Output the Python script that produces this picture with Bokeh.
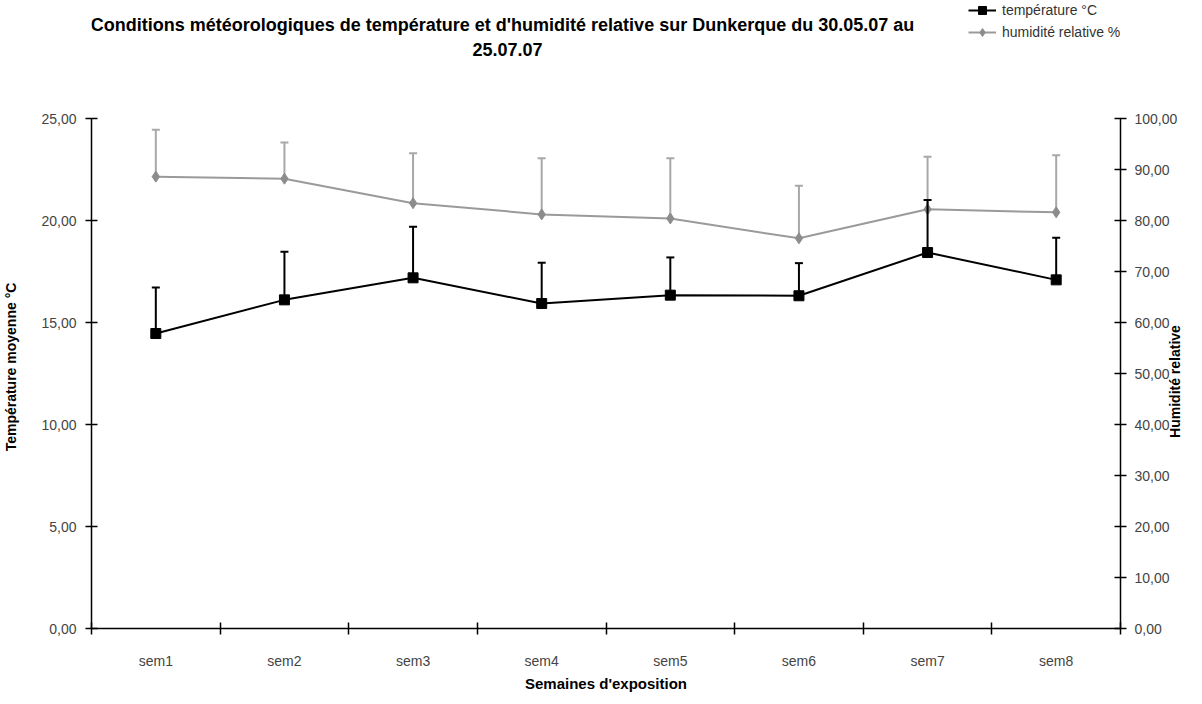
from math import pi
from bokeh.plotting import figure
from bokeh.models import (Range1d, LinearAxis, FixedTicker, Label, Legend,
                          LegendItem, ColumnDataSource)
from bokeh.embed import file_html
from bokeh.resources import INLINE

# ---------------- data ----------------
weeks = ["sem1", "sem2", "sem3", "sem4", "sem5", "sem6", "sem7", "sem8"]
temperature = [14.46, 16.11, 17.19, 15.93, 16.34, 16.31, 18.43, 17.09]
temperature_sd = [2.26, 2.36, 2.50, 2.00, 1.85, 1.60, 2.58, 2.06]
humidity = [88.6, 88.2, 83.4, 81.2, 80.4, 76.5, 82.2, 81.6]
humidity_sd = [9.2, 7.1, 9.8, 11.0, 11.8, 10.3, 10.3, 11.2]
temp_ticks = [0, 5, 10, 15, 20, 25]
hum_ticks = [0, 10, 20, 30, 40, 50, 60, 70, 80, 90, 100]

FONT = "Liberation Sans"
TICK_COL = "#444444"
NBSP = "\u00a0"

# geometry: the frame reaches the top of the canvas so that the title and
# legend (drawn inside it) are visible; the axes are bounded to their data span
FRAME_W, FRAME_H = 1029, 628
AXIS_H = 510                      # pixel height of the 0..25 axis span
T_MAX, H_MAX = 25, 100

xpos = [i + 0.5 for i in range(len(weeks))]
src = ColumnDataSource(dict(
    x=xpos,
    t=temperature,
    t_top=[v + s for v, s in zip(temperature, temperature_sd)],
    h=humidity,
    h_top=[v + s for v, s in zip(humidity, humidity_sd)],
))

p = figure(frame_width=FRAME_W, frame_height=FRAME_H,
           min_border_left=87, min_border_right=70,
           min_border_top=0, min_border_bottom=60,
           x_range=Range1d(0, len(weeks)),
           y_range=Range1d(0, T_MAX * FRAME_H / AXIS_H),
           output_backend="svg", toolbar_location=None,
           x_axis_location=None, y_axis_location=None)
p.extra_y_ranges = {"hum": Range1d(0, H_MAX * FRAME_H / AXIS_H)}
p.outline_line_color = None
p.xgrid.visible = False
p.ygrid.visible = False
p.background_fill_color = "white"
p.border_fill_color = "white"

# ---------------- axes ----------------
xaxis = LinearAxis(
    bounds=(0, len(weeks)),
    ticker=FixedTicker(ticks=xpos, minor_ticks=list(range(len(weeks) + 1))),
    major_label_overrides={x: w for x, w in zip(xpos, weeks)},
    major_tick_in=0, major_tick_out=0,
    minor_tick_in=6, minor_tick_out=6,
    minor_tick_line_color="black", minor_tick_line_width=1.5,
    axis_line_color="black", axis_line_width=1.5,
    major_label_standoff=18,
    major_label_text_font=FONT, major_label_text_font_size="14px",
    major_label_text_color=TICK_COL,
    axis_label="Semaines d'exposition", axis_label_standoff=3,
    axis_label_text_font=FONT, axis_label_text_font_size="15px",
    axis_label_text_font_style="bold", axis_label_text_color="black")
p.add_layout(xaxis, "below")

# left title: trailing no-break spaces shift it down to the middle of the 0..25 span
yaxis = LinearAxis(
    bounds=(0, T_MAX),
    ticker=FixedTicker(ticks=temp_ticks),
    major_label_overrides={t: f"{t:.2f}".replace(".", ",") for t in temp_ticks},
    major_tick_in=6, major_tick_out=6,
    major_tick_line_color="black", major_tick_line_width=1.5,
    minor_tick_line_color=None,
    axis_line_color="black", axis_line_width=1.5,
    major_label_standoff=9,
    major_label_text_font=FONT, major_label_text_font_size="14px",
    major_label_text_color=TICK_COL,
    axis_label="Température moyenne °C" + NBSP * 27, axis_label_standoff=19,
    axis_label_text_font=FONT, axis_label_text_font_size="14px",
    axis_label_text_font_style="bold", axis_label_text_color="black")
p.add_layout(yaxis, "left")

# right title: read bottom-to-top, anchored at the axis start, lifted by leading spaces
yaxis2 = LinearAxis(
    y_range_name="hum",
    bounds=(0, H_MAX),
    ticker=FixedTicker(ticks=hum_ticks),
    major_label_overrides={t: f"{t:.2f}".replace(".", ",") for t in hum_ticks},
    major_tick_in=6, major_tick_out=6,
    major_tick_line_color="black", major_tick_line_width=1.5,
    minor_tick_line_color=None,
    axis_line_color="black", axis_line_width=1.5,
    major_label_standoff=8,
    major_label_text_font=FONT, major_label_text_font_size="14px",
    major_label_text_color=TICK_COL,
    axis_label=NBSP * 49 + "Humidité relative", axis_label_standoff=-5,
    axis_label_text_font=FONT, axis_label_text_font_size="14px",
    axis_label_text_font_style="bold", axis_label_text_color="black")
try:
    yaxis2.axis_label_orientation = pi / 2
    yaxis2.axis_label_align = "start"
except Exception:
    pass
p.add_layout(yaxis2, "right")

# ---------------- humidity series ----------------
HUM_LINE = "#9a9a9a"
HUM_ERR = "#a8a8a8"
p.segment(x0="x", y0="h", x1="x", y1="h_top", source=src, y_range_name="hum",
          line_color=HUM_ERR, line_width=2)
p.scatter(x="x", y="h_top", source=src, y_range_name="hum", marker="dash",
          size=8, line_color=HUM_ERR, line_width=2)
r_hline = p.line(x="x", y="h", source=src, y_range_name="hum",
                 line_color=HUM_LINE, line_width=2)
r_hpt = p.scatter(x="x", y="h", source=src, y_range_name="hum", marker="diamond",
                  size=11, fill_color="#8c8c8c", line_color="#8c8c8c")

# ---------------- temperature series ----------------
p.segment(x0="x", y0="t", x1="x", y1="t_top", source=src,
          line_color="black", line_width=2)
p.scatter(x="x", y="t_top", source=src, marker="dash",
          size=8, line_color="black", line_width=2)
r_tline = p.line(x="x", y="t", source=src, line_color="black", line_width=2)
r_tpt = p.scatter(x="x", y="t", source=src, marker="square", size=10,
                  fill_color="black", line_color="black")

# ---------------- legend ----------------
legend = Legend(items=[
    LegendItem(label="température °C", renderers=[r_tline, r_tpt]),
    LegendItem(label="humidité relative %", renderers=[r_hline, r_hpt]),
], location=(877, 586), orientation="vertical",
    glyph_width=28, glyph_height=20, label_height=20, label_standoff=6,
    spacing=2, padding=0, margin=0,
    border_line_color=None, background_fill_alpha=0,
    label_text_font=FONT, label_text_font_size="14px", label_text_color="#333333")
p.add_layout(legend)

# ---------------- title ----------------
def add_label(x, y, text, size):
    p.add_layout(Label(x=x, y=y, x_units="screen", y_units="screen", text=text,
                       text_font=FONT, text_font_size=size,
                       text_font_style="bold",
                       text_align="center", text_baseline="middle",
                       text_color="black"))

add_label(416, 604,
          "Conditions météorologiques  de température et d'humidité relative sur Dunkerque du 30.05.07  au",
          "18px")
add_label(416, 579, "25.07.07", "18px")

open("out.html", "w").write(file_html(p, INLINE))
